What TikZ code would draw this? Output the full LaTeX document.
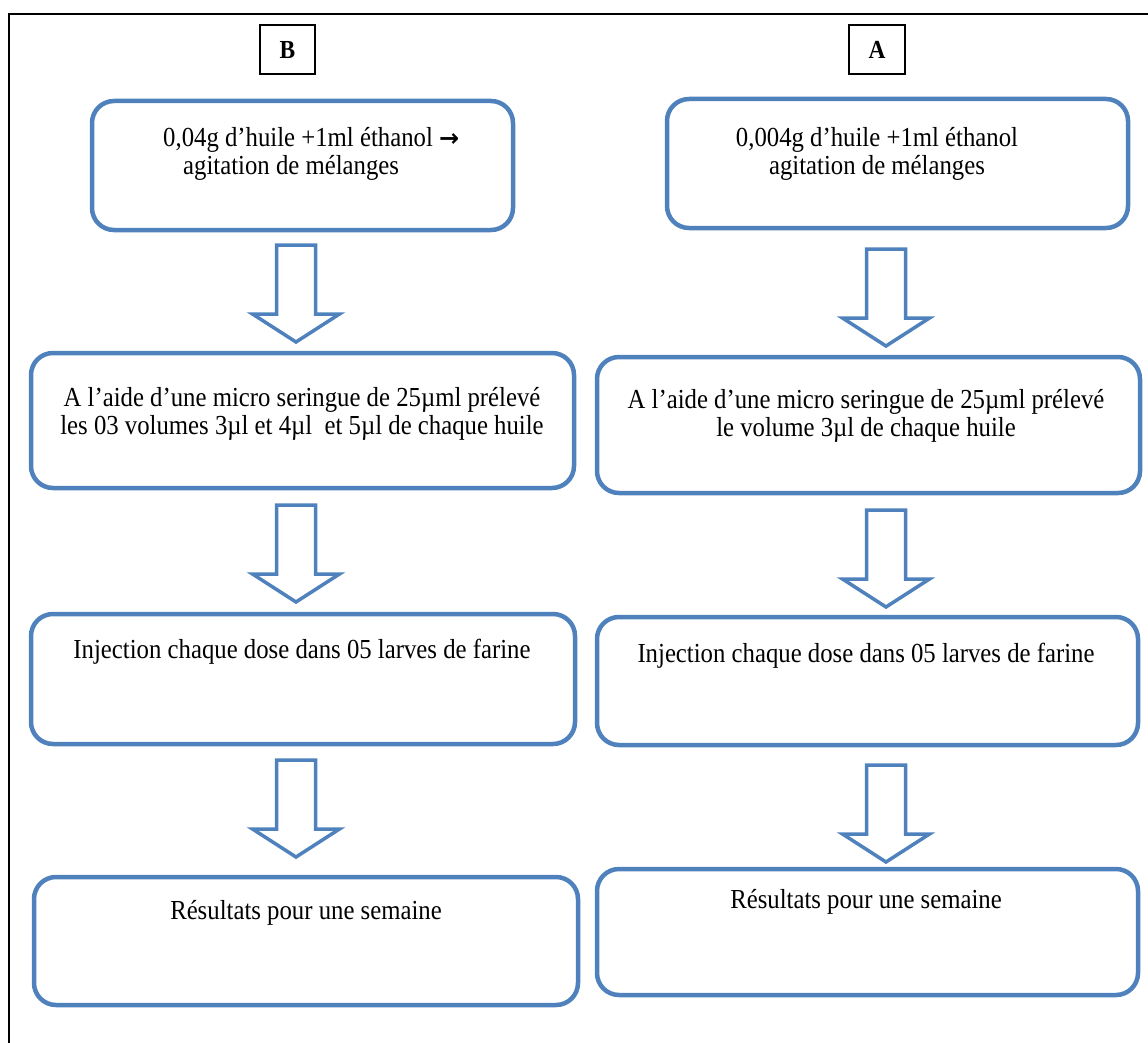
\documentclass[tikz,border=0pt]{standalone}
\usepackage{fontspec}
\setmainfont{Liberation Serif}[FakeStretch=0.9]
\newfontfamily\arrowfont{DejaVu Sans}
\definecolor{boxblue}{RGB}{79,129,189}
\begin{document}
\begin{tikzpicture}[x=1pt,y=-1pt,
  flowbox/.style={draw=boxblue,line width=4.5pt,rounded corners=22pt},
  labelbox/.style={draw=black,line width=1.2pt},
  txt/.style={anchor=base,inner sep=0pt,font=\fontsize{27.5}{30}\selectfont},
  lbl/.style={inner sep=0pt,font=\fontsize{26}{28}\selectfont\bfseries},
  arrowline/.style={draw=boxblue,fill=white,line width=3.5pt,line join=miter},
  downarrow/.pic={\draw[arrowline] (-19.5,0) -- (19.5,0) -- (19.5,69) -- (43.5,69) -- (0,97) -- (-43.5,69) -- (-19.5,69) -- cycle;}
]
\useasboundingbox (0,0) rectangle (1148,1043);
% outer frame
\draw[line width=2.5pt] (9,1050) -- (9,14) -- (1160,14);

% labels
\draw[labelbox] (260,25) rectangle (315,74);
\node[lbl] (labB) at (287.5,50) {B};
\draw[labelbox] (849,25) rectangle (905,74);
\node[lbl] (labA) at (877,50) {A};

% column B boxes
\draw[flowbox] (92,101) rectangle (513,230) coordinate (B1);
\draw[flowbox] (31,353) rectangle (574,488) coordinate (B2);
\draw[flowbox] (31,614) rectangle (575,744) coordinate (B3);
\draw[flowbox] (34,877) rectangle (578,1005) coordinate (B4);

% column A boxes
\draw[flowbox] (667,99) rectangle (1128,228) coordinate (A1);
\draw[flowbox] (597,357) rectangle (1140,493) coordinate (A2);
\draw[flowbox] (597,617) rectangle (1138,745) coordinate (A3);
\draw[flowbox] (597,869) rectangle (1138,995) coordinate (A4);

% arrows
\pic (arB1) at (296,245) {downarrow};
\pic (arB2) at (296,505) {downarrow};
\pic (arB3) at (296,760) {downarrow};
\pic (arA1) at (886,249) {downarrow};
\pic (arA2) at (886,510) {downarrow};
\pic (arA3) at (886,765) {downarrow};

% texts B
\node[txt,anchor=base west] (tB1a) at (163,147) {0,04g d’huile +1ml éthanol {\arrowfont\bfseries\fontsize{24}{24}\selectfont →}};
\node[txt,anchor=base west] (tB1b) at (183,175) {agitation de mélanges};
\node[txt] (tB2a) at (302,406) {A l’aide d’une micro seringue de 25µml prélevé};
\node[txt] (tB2b) at (302,434) {les 03 volumes 3µl et 4µl\ \ et 5µl de chaque huile};
\node[txt] (tB3) at (302,658) {Injection chaque dose dans 05 larves de farine};
\node[txt] (tB4) at (306,919) {Résultats pour une semaine};

% texts A
\node[txt] (tA1a) at (877,147) {0,004g d’huile +1ml éthanol};
\node[txt] (tA1b) at (877,175) {agitation de mélanges};
\node[txt] (tA2a) at (866,408) {A l’aide d’une micro seringue de 25µml prélevé};
\node[txt] (tA2b) at (866,436) {le volume 3µl de chaque huile};
\node[txt] (tA3) at (866,662) {Injection chaque dose dans 05 larves de farine};
\node[txt] (tA4) at (866,908) {Résultats pour une semaine};
\end{tikzpicture}
\end{document}
